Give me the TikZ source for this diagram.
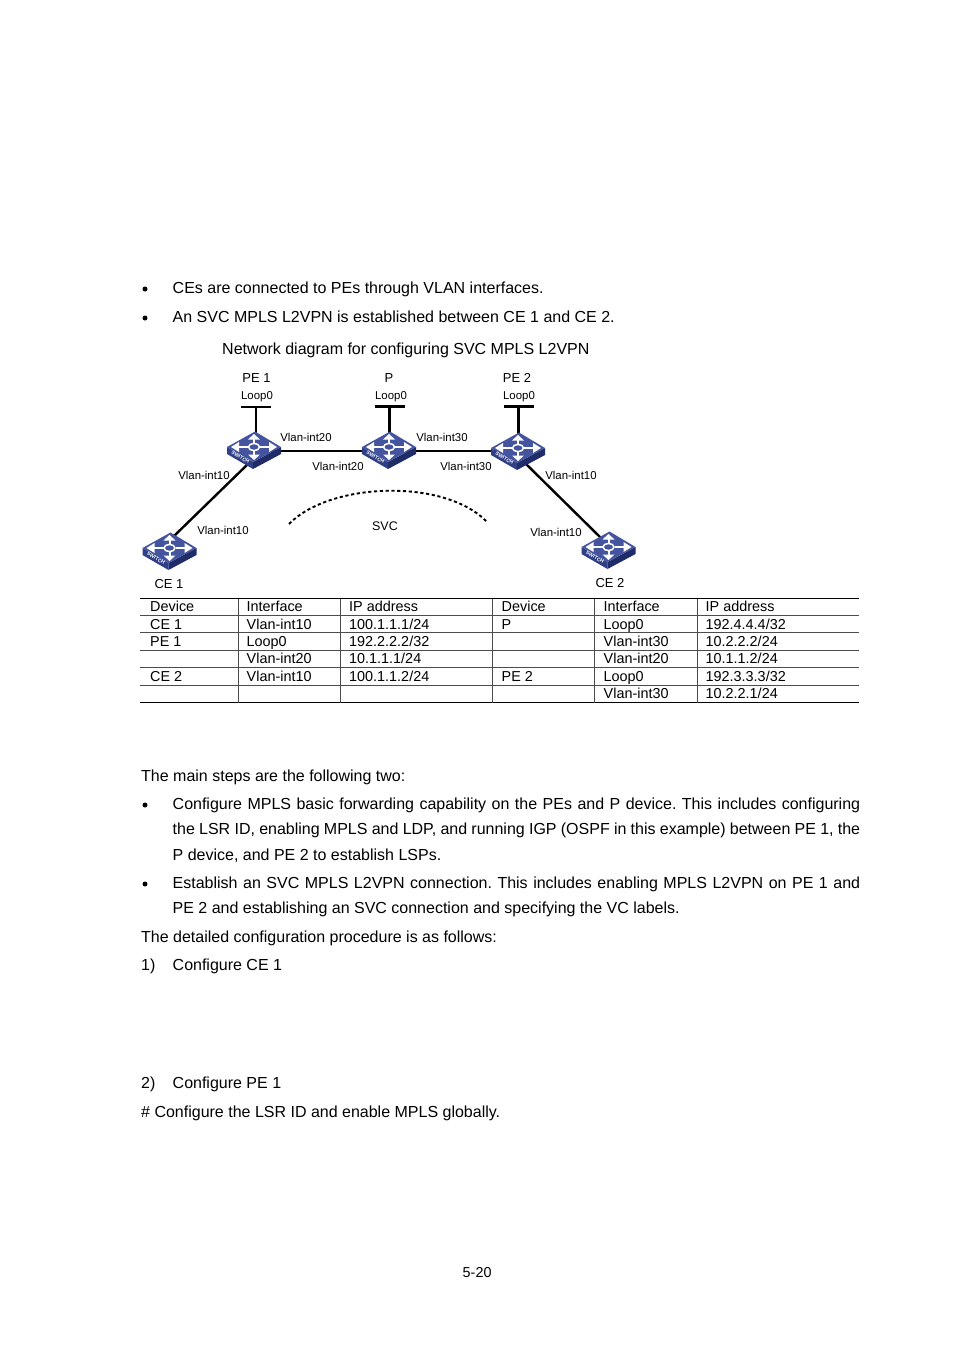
\documentclass[tikz,border=0pt]{standalone}
\usepackage{fontspec}
\setmainfont{Liberation Sans}
\frenchspacing
\usetikzlibrary{positioning,calc}
\definecolor{swtop}{HTML}{44549F}
\definecolor{swleft}{HTML}{2F3F86}
\definecolor{swright}{HTML}{1F2C68}
\tikzset{
  bodytxt/.style={anchor=base west, inner sep=0pt, font=\fontsize{16}{18}\selectfont},
  celltxt/.style={anchor=base west, inner sep=0pt, font=\fontsize{14.4}{16}\selectfont},
  labeltxt/.style={inner sep=0pt, font=\fontsize{11.4}{13}\selectfont},
  devtxt/.style={inner sep=0pt, font=\fontsize{13}{15}\selectfont},
  bulletdot/.style={circle, fill=black, inner sep=0pt, minimum size=5pt},
  linkline/.style={line width=2.4pt, draw=black},
  rowline/.style={line width=0.8pt, draw=black},
  pics/switchicon/.style={code={
    \fill[swleft] (-27,0) -- (-1,15) -- (-1,22) -- (-27,7) -- cycle;
    \fill[swright] (27,0) -- (-1,15) -- (-1,22) -- (27,7) -- cycle;
    \fill[swtop] (-27,0) -- (1,-15.5) -- (27,0) -- (-1,15) -- cycle;
    \foreach \a in {1,-1}{
      \draw[white, line width=2pt] (\a*6,0) -- (\a*16,0);
      \fill[white] (\a*23,0) -- (\a*15,-5) -- (\a*15,5) -- cycle;
      \draw[white, line width=2pt] (0,\a*3) -- (0,\a*8);
      \fill[white] (0,\a*13) -- (-6,\a*7.5) -- (6,\a*7.5) -- cycle;
    }
    \draw[white, line width=1.5pt, fill=swtop] (0,0) ellipse (5.5 and 3.6);
    \node[white, rotate=-30, inner sep=0pt, font=\fontsize{5}{5}\bfseries\selectfont] at (-13.5,10.2) {SWITCH};
  }},
}
\newcommand{\fullline}[3]{\node[bodytxt] (#1) at (172.5,#2) {\makebox[687.5pt][s]{#3}};}
\begin{document}
\begin{tikzpicture}[x=1pt, y=-1pt]
  \useasboundingbox (0,0) rectangle (954,1350);

  % top of the page
  \node[bulletdot] (bul1) at (145,289) {};
  \node[bodytxt] (txt1) at (172.5,293) {CEs are connected to PEs through VLAN interfaces.};
  \node[bulletdot] (bul2) at (145,318) {};
  \node[bodytxt] (txt2) at (172.5,322) {An SVC MPLS L2VPN is established between CE 1 and CE 2.};
  \node[bodytxt] (title) at (222,354) {Network diagram for configuring SVC MPLS L2VPN};

  % devices
  \coordinate (pe1) at (254,447);
  \coordinate (p) at (389,447);
  \coordinate (pe2) at (518,448);
  \coordinate (ce1) at (169.5,548);
  \coordinate (ce2) at (608.5,547);
  \coordinate (bar1) at (256,407);
  \coordinate (bar2) at (389.5,406.5);
  \coordinate (bar3) at (518.5,406.5);
  \coordinate (ce1up) at (173,537);
  \coordinate (pe1dn) at (250,462);
  \coordinate (pe2dn) at (524,462);
  \coordinate (ce2up) at (601,538);

  \draw[linkline] (pe1) ++(0,4) -- ($(p)+(0,4)$) -- ($(pe2)+(0,3)$);
  \draw[linkline] (ce1up) -- (pe1dn);
  \draw[linkline] (pe2dn) -- (ce2up);
  \foreach \b/\d in {bar1/pe1,bar2/p,bar3/pe2}{
    \draw[linkline] (\b) -- (\b |- \d);
    \draw[linkline] ($(\b)+(-15,0)$) -- ($(\b)+(15,0)$);
  }
  \foreach \d in {pe1,p,pe2,ce1,ce2}
    \pic at (\d) {switchicon};

  \draw[line width=1.9pt, dash pattern=on 3.2pt off 2.6pt] (289,524) .. controls (330,482) and (445,478) .. (487,522);

  % labels of the diagram
  \node[devtxt] (lpe1) at (256.5,378) {PE 1};
  \node[devtxt] (lp) at (389,378) {P};
  \node[devtxt] (lpe2) at (517,378) {PE 2};
  \node[devtxt] (lce1) at (169,584) {CE 1};
  \node[devtxt] (lce2) at (610,583) {CE 2};
  \node[labeltxt] (lo1) at (257,397) {Loop0};
  \node[labeltxt] (lo2) at (391,397) {Loop0};
  \node[labeltxt] (lo3) at (519,397) {Loop0};
  \node[labeltxt] (v1) at (306,437) {Vlan-int20};
  \node[labeltxt] (v2) at (338,466) {Vlan-int20};
  \node[labeltxt] (v3) at (442,437) {Vlan-int30};
  \node[labeltxt] (v4) at (466,466) {Vlan-int30};
  \node[labeltxt] (v5) at (204,475.5) {Vlan-int10};
  \node[labeltxt] (v6) at (223,530.5) {Vlan-int10};
  \node[labeltxt] (v7) at (571,475.5) {Vlan-int10};
  \node[labeltxt] (v8) at (556,532.5) {Vlan-int10};
  \node[labeltxt, font=\fontsize{12.5}{14}\selectfont] (svc) at (385,526) {SVC};

  % table
  \draw[rowline] (140,598.5) -- (859,598.5);
  \foreach \y in {615.5,632.5,650,667.5,685}
    \draw[line width=0.5pt, draw=black!70] (140,\y) -- (859,\y);
  \draw[line width=1pt] (140,702.5) -- (859,702.5);
  \foreach \x in {238.5,340.5,492.5,594.5,697.5}
    \draw[line width=0.5pt, draw=black!70] (\x,598.5) -- (\x,702.5);
  \foreach \x/\y/\t [count=\i] in {
    150/611/Device,246.5/611/Interface,349/611/IP address,501.5/611/Device,603.5/611/Interface,705.5/611/IP address,
    150/629/CE 1,246.5/629/Vlan-int10,349/629/{100.1.1.1/24},501.5/629/P,603.5/629/Loop0,705.5/629/{192.4.4.4/32},
    150/646/PE 1,246.5/646/Loop0,349/646/{192.2.2.2/32},603.5/646/Vlan-int30,705.5/646/{10.2.2.2/24},
    246.5/663/Vlan-int20,349/663/{10.1.1.1/24},603.5/663/Vlan-int20,705.5/663/{10.1.1.2/24},
    150/681/CE 2,246.5/681/Vlan-int10,349/681/{100.1.1.2/24},501.5/681/PE 2,603.5/681/Loop0,705.5/681/{192.3.3.3/32},
    603.5/698/Vlan-int30,705.5/698/{10.2.2.1/24}}
    \node[celltxt] (cell\i) at (\x,\y) {\t};

  % text below the table
  \node[bodytxt] (txt3) at (141,781) {The main steps are the following two:};
  \node[bulletdot] (bul3) at (145,805) {};
  \fullline{txt4}{809}{Configure MPLS basic forwarding capability on the PEs and P device. This includes configuring}
  \fullline{txt5}{834.5}{the LSR ID, enabling MPLS and LDP, and running IGP (OSPF in this example) between PE 1, the}
  \node[bodytxt] (txt6) at (172.5,860) {P device, and PE 2 to establish LSPs.};
  \node[bulletdot] (bul4) at (145,884) {};
  \fullline{txt7}{888}{Establish an SVC MPLS L2VPN connection. This includes enabling MPLS L2VPN on PE 1 and}
  \node[bodytxt] (txt8) at (172.5,913) {PE 2 and establishing an SVC connection and specifying the VC labels.};
  \node[bodytxt] (txt9) at (141,942) {The detailed configuration procedure is as follows:};
  \node[bodytxt] (num1) at (141,970) {1)};
  \node[bodytxt] (txt10) at (172.5,970) {Configure CE 1};
  \node[bodytxt] (num2) at (141,1088) {2)};
  \node[bodytxt] (txt11) at (172.5,1088) {Configure PE 1};
  \node[bodytxt] (txt12) at (141,1117) {\# Configure the LSR ID and enable MPLS globally.};
  \node[celltxt] (pageno) at (462.5,1277) {5-20};
\end{tikzpicture}
\end{document}
